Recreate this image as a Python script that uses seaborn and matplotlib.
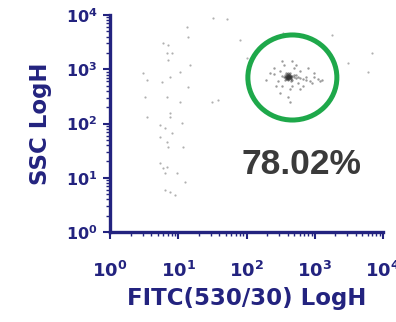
import numpy as np
import pandas as pd
import matplotlib
matplotlib.use("Agg")
import matplotlib.pyplot as plt
from matplotlib.patches import Ellipse
from matplotlib.ticker import LogLocator, NullFormatter
import seaborn as sns

# ---- data ----
bg_fitc = [32, 52, 13.4, 13.9, 6.0, 7.1, 6.8, 8.1, 7.1, 14.9, 3.0, 3.5, 5.8, 7.6, 10.6,
           13.9, 3.3, 6.8, 10.6, 31, 38, 3.5, 7.6, 5.4, 6.4, 7.6, 11.3, 8.1, 5.4, 6.8,
           7.1, 11.7, 5.4, 6.0, 6.4, 6.8, 9.6, 12.6, 6.4, 7.6, 9.0, 343, 80, 102, 1790,
           6900, 3070, 6030, 464]
bg_ssc = [8800, 8500, 6000, 3930, 3050, 2800, 1990, 1990, 1480, 1200, 850, 630, 580, 720, 890,
          470, 310, 310, 250, 250, 270, 132, 156, 94, 83, 132, 102, 67, 56, 46,
          37, 37, 18.7, 15.1, 12.2, 15.8, 12.2, 8.4, 5.9, 5.5, 4.8, 4660, 3460, 1610, 4280,
          1990, 1300, 890, 116]

cl_fitc = [405, 419, 392, 433, 379, 405, 419, 392, 448, 366, 433, 405, 463, 379, 419,
           448, 354, 433, 392, 463, 496, 366, 405, 496, 531, 331, 448, 379, 531, 567,
           405, 419, 392, 419, 405, 392, 433, 433, 379, 419, 392, 448, 405, 448, 366, 379,
           608, 672, 743, 743, 851, 1114, 1192, 972, 309, 289, 253, 331, 463, 567, 496,
           354, 433, 608, 270, 672, 221, 531, 309, 405, 463, 795, 193, 910, 608, 331,
           972, 1276, 253, 433]
cl_ssc = [720, 751, 720, 690, 751, 784, 661, 690, 720, 784, 784, 634, 751, 661, 818,
          661, 720, 853, 818, 634, 720, 634, 853, 784, 690, 751, 608, 853, 784, 720,
          751, 720, 751, 690, 690, 784, 720, 751, 720, 784, 661, 751, 661, 690, 720, 690,
          690, 661, 634, 720, 608, 661, 608, 720, 929, 608, 818, 491, 491, 558, 1055,
          1198, 433, 929, 491, 491, 853, 1198, 365, 308, 1420, 1055, 634, 558, 433, 1420,
          853, 634, 1055, 249]

gate_percent = "78.02%"
xticks = [1, 10, 100, 1000, 10000]
xtick_labels = [r"$\mathbf{10^{0}}$", r"$\mathbf{10^{1}}$", r"$\mathbf{10^{2}}$",
                r"$\mathbf{10^{3}}$", r"$\mathbf{10^{4}}$"]
yticks = [1, 10, 100, 1000, 10000]
ytick_labels = [r"$\mathbf{10^{0}}$", r"$\mathbf{10^{1}}$", r"$\mathbf{10^{2}}$",
                r"$\mathbf{10^{3}}$", r"$\mathbf{10^{4}}$"]
xlabel = "FITC(530/30) LogH"
ylabel = "SSC LogH"

bg = pd.DataFrame({"FITC": bg_fitc, "SSC": bg_ssc})
cl = pd.DataFrame({"FITC": cl_fitc, "SSC": cl_ssc})

sns.set_theme(style="white")
plt.rcParams["font.family"] = ["DejaVu Sans"]

navy = "#23237f"
fig = plt.figure(figsize=(3.96, 3.22), dpi=100)
ax = fig.add_axes([110/396, 90/322, 273/396, 217/322])

sns.scatterplot(data=bg, x="FITC", y="SSC", ax=ax, color="#a8a8a8", s=2.5,
                linewidth=0, alpha=0.9)
sns.scatterplot(data=cl, x="FITC", y="SSC", ax=ax, color="#222222", s=3,
                linewidth=0, alpha=0.45)

ax.set_xscale("log")
ax.set_yscale("log")
ax.set_xlim(1, 10000)
ax.set_ylim(1, 10000)

for s in ["top", "right"]:
    ax.spines[s].set_visible(False)
for s in ["left", "bottom"]:
    ax.spines[s].set_color(navy)
    ax.spines[s].set_linewidth(2.4)

ax.set_xticks(xticks, xtick_labels)
ax.set_yticks(yticks, ytick_labels)
ax.xaxis.set_minor_locator(LogLocator(base=10, subs=np.arange(2, 10)))
ax.yaxis.set_minor_locator(LogLocator(base=10, subs=np.arange(2, 10)))
ax.xaxis.set_minor_formatter(NullFormatter())
ax.yaxis.set_minor_formatter(NullFormatter())
ax.tick_params(which="major", direction="out", length=5, width=1.5, color=navy,
               labelcolor=navy, bottom=True, left=True)
ax.tick_params(which="minor", direction="out", length=3, width=1.0, color=navy,
               bottom=True, left=True)
ax.tick_params(axis="x", labelsize=13, pad=16)
ax.tick_params(axis="y", labelsize=11.5, pad=4)

ax.set_xlabel(xlabel, fontsize=16.5, color=navy, fontweight="bold", labelpad=4)
ax.set_ylabel(ylabel, fontsize=16.5, color=navy, fontweight="bold", labelpad=10)

gate = Ellipse((0.668, 0.712), 0.326, 0.392, transform=ax.transAxes,
               fill=False, edgecolor="#1ea84a", linewidth=3.6)
ax.add_patch(gate)
ax.text(0.703, 0.309, gate_percent, transform=ax.transAxes, ha="center", va="center",
        fontsize=25.5, fontweight="bold", color="#3a3a3a", family="Liberation Sans")

fig.savefig("out.png", dpi=100)
